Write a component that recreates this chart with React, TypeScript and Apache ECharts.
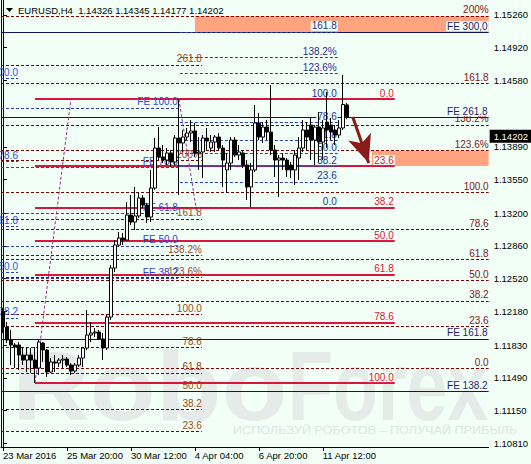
import React, { useEffect, useRef } from "react";
import * as echarts from "echarts";

// ---------- data ----------
const symbolName = "EURUSD";
const timeframe = "H4";

const opens = [
  1.12174, 1.12018, 1.11883, 1.11831, 1.11831, 1.11727, 1.11675, 1.11727, 1.11675, 1.11592,
  1.11852, 1.11779, 1.11551, 1.11655, 1.11644, 1.11675, 1.11686, 1.11623, 1.11561, 1.11623,
  1.11696, 1.118, 1.11935, 1.11956, 1.11966, 1.11894, 1.118, 1.12122, 1.12631, 1.1287,
  1.12943, 1.12922, 1.13182, 1.13109, 1.13172, 1.13359, 1.13286, 1.13161, 1.13462, 1.13878,
  1.13785, 1.13753, 1.13826, 1.13733, 1.13982, 1.1393, 1.13992, 1.14034, 1.14055, 1.13826,
  1.13837, 1.13982, 1.13878, 1.1394, 1.13992, 1.13878, 1.1365, 1.13722, 1.13961, 1.13805,
  1.13826, 1.13701, 1.13473, 1.1365, 1.14138, 1.13992, 1.14096, 1.14044, 1.13857, 1.13753,
  1.13774, 1.13753, 1.13701, 1.1365, 1.13774, 1.13878, 1.14065, 1.14117, 1.13961, 1.14096,
  1.1394, 1.14148, 1.14117, 1.14065, 1.14013, 1.14086, 1.14326,
];
const closes = [
  1.12018, 1.11883, 1.11831, 1.1181, 1.11727, 1.11675, 1.11727, 1.11675, 1.11592, 1.11862,
  1.11779, 1.11551, 1.11655, 1.11644, 1.11675, 1.11686, 1.11623, 1.11561, 1.11623, 1.11696,
  1.118, 1.11935, 1.11956, 1.11966, 1.11894, 1.118, 1.12122, 1.12631, 1.1287, 1.12943,
  1.12922, 1.13182, 1.13109, 1.13172, 1.13359, 1.13286, 1.13161, 1.13462, 1.13878, 1.13785,
  1.13753, 1.13826, 1.13733, 1.13982, 1.1393, 1.13992, 1.14034, 1.14055, 1.13826, 1.13837,
  1.13982, 1.13951, 1.1394, 1.13992, 1.13878, 1.13753, 1.13722, 1.13961, 1.13805, 1.13837,
  1.13701, 1.13473, 1.1365, 1.14138, 1.13992, 1.14096, 1.14044, 1.13857, 1.13753, 1.13774,
  1.13753, 1.1365, 1.1365, 1.13805, 1.13878, 1.14065, 1.13992, 1.13961, 1.14096, 1.1394,
  1.14086, 1.14065, 1.14044, 1.14013, 1.14086, 1.1433, 1.14202,
];
const lows = [
  1.11956, 1.11852, 1.11623, 1.11592, 1.11572, 1.11623, 1.11551, 1.1154, 1.11436, 1.1152,
  1.11655, 1.11499, 1.1154, 1.11551, 1.11603, 1.11592, 1.11603, 1.1152, 1.1154, 1.11603,
  1.11603, 1.11779, 1.11862, 1.11914, 1.11883, 1.11675, 1.11779, 1.12091, 1.1259, 1.1285,
  1.1287, 1.12922, 1.13078, 1.13026, 1.13151, 1.13255, 1.13099, 1.13109, 1.13442, 1.13753,
  1.13722, 1.13701, 1.13681, 1.13701, 1.1339, 1.13837, 1.13961, 1.1394, 1.13785, 1.1365,
  1.13566, 1.13857, 1.13837, 1.13837, 1.13857, 1.13473, 1.13411, 1.1365, 1.13785, 1.13753,
  1.1367, 1.13338, 1.13265, 1.13629, 1.13961, 1.1393, 1.13961, 1.13805, 1.13577, 1.13369,
  1.1365, 1.13577, 1.13566, 1.13494, 1.13546, 1.13837, 1.13857, 1.13753, 1.13701, 1.13733,
  1.13753, 1.13878, 1.13961, 1.13909, 1.13982, 1.14065, 1.14177,
];
const highs = [
  1.12216, 1.1207, 1.11987, 1.11852, 1.11862, 1.1181, 1.1181, 1.118, 1.1181, 1.11883,
  1.11862, 1.1179, 1.11696, 1.11727, 1.11696, 1.11727, 1.11707, 1.11644, 1.11644, 1.11727,
  1.1181, 1.12195, 1.1207, 1.12008, 1.11987, 1.11956, 1.12143, 1.12662, 1.12922, 1.13005,
  1.12995, 1.13317, 1.1339, 1.13473, 1.13421, 1.1339, 1.13307, 1.1365, 1.13982, 1.14096,
  1.13909, 1.13878, 1.13857, 1.14013, 1.14387, 1.14065, 1.14086, 1.14169, 1.14138, 1.13992,
  1.14013, 1.14086, 1.14013, 1.14013, 1.14034, 1.13909, 1.13826, 1.13992, 1.13992, 1.13909,
  1.13857, 1.13753, 1.13722, 1.14325, 1.14242, 1.14148, 1.14169, 1.14533, 1.13909, 1.13805,
  1.13826, 1.13774, 1.13733, 1.13857, 1.13992, 1.14169, 1.14148, 1.1419, 1.14117, 1.14252,
  1.14169, 1.1446, 1.1419, 1.14117, 1.14169, 1.14637, 1.14345,
];

const tickLabels = ["23 Mar 2016", "25 Mar 20:00", "30 Mar 12:00", "4 Apr 04:00", "6 Apr 20:00", "11 Apr 12:00"];
const barsPerTick = 16;
const totalSlots = 122;

const priceTicks = [1.1526, 1.1492, 1.1458, 1.1389, 1.1355, 1.132, 1.1286, 1.1252, 1.1218, 1.1183, 1.1149, 1.1115, 1.1081];
const lastPrice = 1.14202;
const priceMin = 1.107717;
const priceMax = 1.154158;

// Fibonacci tools: anchors = [price at 0 %, price at 100 %]
const fibAAnchors = [1.11592, 1.13421];
const fibALevels = [0, 23.6, 38.2, 50, 61.8, 78.6, 100, 123.6, 138.2, 161.8, 200];
const fibBAnchors = [1.10553, 1.12153];
const fibBLevels = [23.6, 38.2, 50, 61.8, 78.6, 100, 123.6, 138.2, 161.8, 200, 261.8];
const fibCAnchors = [1.13259, 1.14387];
const fibCLevels = [0, 23.6, 38.2, 50, 61.8, 78.6, 100, 123.6, 138.2, 161.8];
const retraceAnchors = [1.14387, 1.11436];
const retraceLevels = [0, 23.6, 38.2, 50, 61.8, 78.6, 100];
const feLeftAnchors = [1.11426, 1.14294];
const feLeftLevels = [38.2, 50, 61.8, 78.6, 100];
const feEdgeAnchors = [1.10574, 1.14605];
const feEdgeLevels = [38.2, 50, 61.8, 78.6, 100];
const feMainAnchors = [1.08163, 1.10469];
const feMainLevels = [138.2, 161.8, 261.8, 300];
const feMainLabels = ["FE 138.2", "FE 161.8", "FE 261.8", "FE 300,0"];

// swing connectors [bar, price]
const swingPathA = [[-0.75, 1.12382], [8, 1.11436], [17, 1.14387]];
const swingPathB = [[44, 1.14387], [48.5, 1.13203]];
const arrowFrom = [87.5, 1.142];
const arrowTo = [91.5, 1.13722];

// ---------- styles ----------
const FONT = "Liberation Sans, Arial, sans-serif";
const BG = "#f1fff6";

const spanFull = [-0.5, totalSlots - 0.5];
const spanB = [-0.5, 49.75];
const spanC = [44.25, 83.75];
const spanR = [8, 98];
const spanE = [-0.5, 43.75];
const spanF = [-0.5, 3.75];
const zone1Start = 48;
const zone2Start = 92.25;

const pctLabel = (l: number) => (l === 123.6 || l === 138.2 || l === 200 ? `${l}%` : l.toFixed(1));
const levelPrice = (a: number[], l: number) => a[0] + ((a[1] - a[0]) * l) / 100;
const levelLines = (a: number[], levels: number[], labels: string[], span: number[]) =>
  levels.map((l, k) => {
    const p = levelPrice(a, l);
    return [{ name: labels[k], coord: [span[0], p] }, { coord: [span[1], p] }];
  });

const overlay = (z: number, data: any[], lineStyle: any, label: any) => ({
  type: "line",
  xAxisIndex: 1,
  yAxisIndex: 0,
  data: [],
  z,
  silent: true,
  animation: false,
  markLine: {
    silent: true,
    animation: false,
    symbol: ["none", "none"],
    data,
    lineStyle,
    emphasis: { disabled: true },
    label: {
      show: true,
      position: "insideEndTop",
      formatter: "{b}",
      distance: [0, 1],
      fontSize: 10,
      fontFamily: FONT,
      ...label,
    },
  },
});

export default function App() {
  const ref = useRef<HTMLDivElement>(null);
  useEffect(() => {
    if (!ref.current) return;
    const chart = echarts.init(ref.current, undefined, { renderer: "svg" });
    const candles = opens.map((o, i) => [o, closes[i], lows[i], highs[i]]);
    const slots = Array.from({ length: totalSlots }, (_, i) => String(i));
    const showTick = (i: number) => i % barsPerTick === 0 && i / barsPerTick < tickLabels.length;
    const last = candles.length - 1;
    const header = `${symbolName},${timeframe}  ${opens[last].toFixed(5)} ${highs[last].toFixed(5)} ${lows[last].toFixed(5)} ${closes[last].toFixed(5)}`;

    const dashRed = { color: "#800000", type: [3, 2], width: 1 };
    const dashBlue = { color: "#2a3fc0", type: [3, 2], width: 1 };

    const segs = (pts: number[][]) =>
      pts.slice(1).map((p, k) => [{ coord: pts[k] }, { coord: p }]);

    const option: any = {
      animation: false,
      backgroundColor: BG,
      grid: { left: 1, right: 42, top: 0, bottom: 17, containLabel: false },
      xAxis: [
        {
          type: "category",
          data: slots,
          boundaryGap: true,
          axisLine: { lineStyle: { color: "#000", width: 1 } },
          axisTick: { show: true, alignWithLabel: true, interval: showTick, length: 4, lineStyle: { color: "#000" } },
          axisLabel: {
            interval: showTick,
            formatter: (_v: string, idx: number) => tickLabels[idx / barsPerTick] ?? "",
            align: "left",
            margin: 3,
            fontSize: 9.5,
            color: "#000",
            fontFamily: FONT,
          },
          splitLine: { show: false },
        },
        { type: "value", min: spanFull[0], max: spanFull[1], show: false },
      ],
      yAxis: [
        {
          type: "value",
          position: "right",
          min: priceMin,
          max: priceMax,
          axisLine: { show: true, lineStyle: { color: "#000" } },
          axisTick: { show: true, customValues: priceTicks, length: 4, lineStyle: { color: "#000" } },
          axisLabel: {
            customValues: priceTicks,
            formatter: (v: number) => v.toFixed(5),
            margin: 5,
            fontSize: 9.5,
            color: "#000",
            fontFamily: FONT,
          },
          splitLine: { show: false },
        },
        {
          type: "value",
          position: "left",
          min: priceMin,
          max: priceMax,
          axisLine: { show: true, lineStyle: { color: "#000" } },
          axisTick: { show: false },
          axisLabel: { show: false },
          splitLine: { show: false },
        },
      ],
      series: [
        {
          type: "line",
          xAxisIndex: 1,
          yAxisIndex: 0,
          data: [],
          z: 1,
          silent: true,
          markArea: {
            silent: true,
            itemStyle: { color: "#ffa47e" },
            data: [
              [
                { coord: [zone1Start, levelPrice(fibAAnchors, 200)] },
                { coord: [spanFull[1], levelPrice(feMainAnchors, 300)] },
              ],
              [
                { coord: [zone2Start, levelPrice(fibAAnchors, 123.6)] },
                { coord: [spanFull[1], levelPrice(retraceAnchors, 23.6)] },
              ],
            ],
          },
        },
        overlay(2, levelLines(fibAAnchors, fibALevels, fibALevels.map(pctLabel), spanFull), dashRed, { color: "#7f1818" }),
        overlay(2, levelLines(fibBAnchors, fibBLevels, fibBLevels.map(pctLabel), spanB), dashRed, { color: "#9a4a1e" }),
        overlay(2, levelLines(feLeftAnchors, feLeftLevels, feLeftLevels.map((l) => "FE " + l.toFixed(1)), spanE), dashBlue, { color: "#2f45d8" }),
        overlay(2, levelLines(feEdgeAnchors, feEdgeLevels, feEdgeLevels.map((l) => l.toFixed(1)), spanF), dashBlue, { color: "#2f4fe0" }),
        overlay(3, levelLines(feMainAnchors, feMainLevels, feMainLabels, spanFull), { color: "#14145e", type: "solid", width: 1 }, {
          color: "#1c1c70",
          backgroundColor: BG,
          padding: [0, 1],
        }),
        {
          type: "line",
          xAxisIndex: 1,
          yAxisIndex: 0,
          data: [],
          z: 3,
          silent: true,
          markLine: {
            silent: true,
            symbol: ["none", "none"],
            lineStyle: { color: "#9a2a9e", type: [3, 2], width: 1 },
            label: { show: false },
            data: [...segs(swingPathA), ...segs(swingPathB)],
          },
        },
        overlay(4, levelLines(retraceAnchors, retraceLevels, retraceLevels.map((l) => l.toFixed(1)), spanR), { color: "#dc143c", type: "solid", width: 2 }, {
          color: "#dc143c",
          backgroundColor: BG,
          padding: [0, 1],
        }),
        overlay(5, levelLines(fibCAnchors, fibCLevels, fibCLevels.map(pctLabel), spanC), dashBlue, {
          color: "#1f2f95",
          backgroundColor: BG,
          padding: [0, 1],
        }),
        {
          type: "candlestick",
          xAxisIndex: 0,
          yAxisIndex: 0,
          data: candles,
          barWidth: 3,
          z: 10,
          itemStyle: { color: "#ffffff", color0: "#000000", borderColor: "#000", borderColor0: "#000", borderWidth: 1 },
          markLine: {
            silent: true,
            symbol: ["none", "none"],
            lineStyle: { color: "rgba(0,0,0,0)", width: 1, type: "solid" },
            data: [{ yAxis: lastPrice }],
            label: {
              show: true,
              position: "end",
              distance: 1,
              formatter: () => lastPrice.toFixed(5),
              backgroundColor: "#000",
              color: "#fff",
              padding: [2, 4, 1, 4],
              fontSize: 9.5,
              fontFamily: FONT,
              opacity: 1,
            },
          },
        },
        {
          type: "line",
          xAxisIndex: 1,
          yAxisIndex: 0,
          data: [],
          z: 20,
          silent: true,
          markLine: {
            silent: true,
            symbol: ["none", "arrow"],
            symbolSize: [18, 28],
            lineStyle: { color: "#8b1a1a", type: "solid", width: 3 },
            itemStyle: { color: "#8b1a1a" },
            label: { show: false },
            data: [[{ coord: arrowFrom }, { coord: arrowTo }]],
          },
        },
      ],
      graphic: [
        {
          type: "text",
          x: 12,
          y: 386,
          z: 0,
          silent: true,
          scaleX: 1.1,
          style: { text: "Robo", fontSize: 98, fontWeight: "bold", fontFamily: FONT, fill: "#e4ebe9", verticalAlign: "middle" },
        },
        {
          type: "text",
          x: 288,
          y: 386,
          z: 0,
          silent: true,
          scaleX: 0.75,
          style: { text: "Forex", fontSize: 98, fontWeight: "bold", fontFamily: FONT, fill: "#e4ebe9", verticalAlign: "middle" },
        },
        {
          type: "text",
          x: 233,
          y: 430,
          z: 0,
          silent: true,
          scaleX: 1.15,
          style: { text: "ИСПОЛЬЗУЙ РОБОТОВ – ПОЛУЧАЙ ПРИБЫЛЬ", fontSize: 11, fontFamily: FONT, fill: "#dde5e2", verticalAlign: "middle" },
        },
        {
          type: "polygon",
          z: 100,
          silent: true,
          shape: { points: [[6, 8], [13, 8], [9.5, 12]] },
          style: { fill: "#000" },
        },
        {
          type: "text",
          x: 18,
          y: 10,
          z: 100,
          silent: true,
          style: { text: header, fontSize: 9.5, fontFamily: FONT, fill: "#000", verticalAlign: "middle" },
        },
      ],
    };
    chart.setOption(option);
    return () => chart.dispose();
  }, []);
  return <div ref={ref} style={{ position: "fixed", left: 0, top: 0, width: 531, height: 464, background: BG }} />;
}
